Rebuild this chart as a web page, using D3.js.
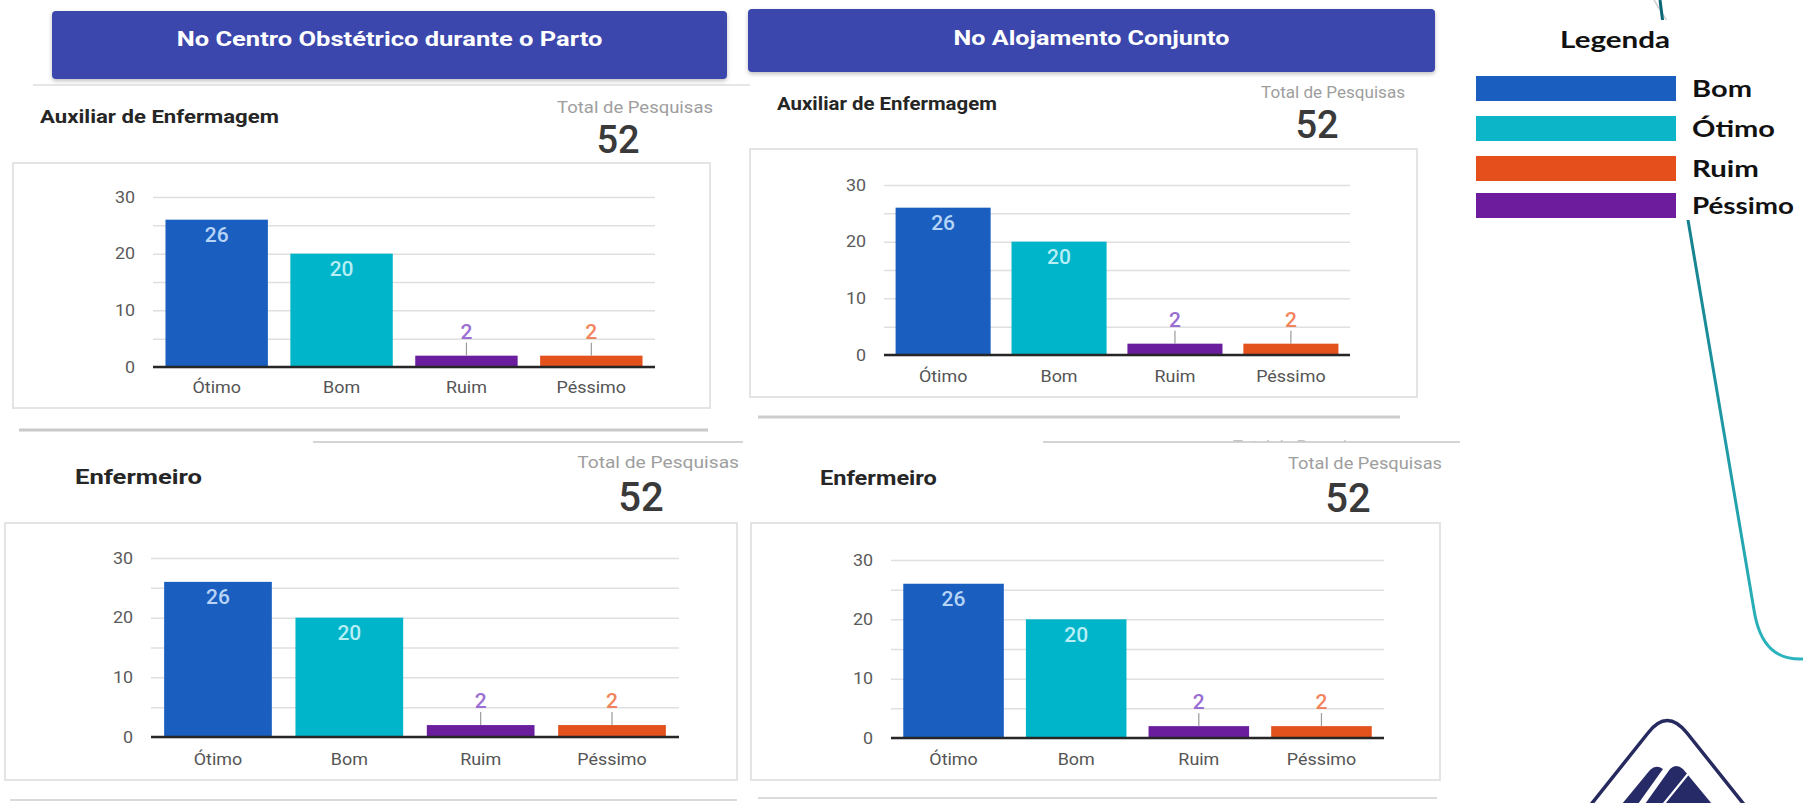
<!DOCTYPE html>
<html><head><meta charset="utf-8">
<script src="https://cdn.jsdelivr.net/npm/d3@7"></script>
<style>body{margin:0;background:#fff}svg{display:block}</style>
</head><body>
<svg id="c" width="1803" height="803"></svg>
<script>
// ---------- DATA ----------
const categories = ["Ótimo", "Bom", "Ruim", "Péssimo"];
const centroAuxiliar = [26, 20, 2, 2];
const centroEnfermeiro = [26, 20, 2, 2];
const alojamentoAuxiliar = [26, 20, 2, 2];
const alojamentoEnfermeiro = [26, 20, 2, 2];
const totalPesquisas = [52, 52, 52, 52]; // TL, TR, BL, BR
const sectionTitles = ["No Centro Obstétrico durante o Parto", "No Alojamento Conjunto"];
const roleTitles = ["Auxiliar de Enfermagem", "Enfermeiro"];
const totalLabel = "Total de Pesquisas";
const yTickValues = [0, 10, 20, 30];
const gridValues = [0, 5, 10, 15, 20, 25, 30];
const yDomain = [0, 30];
const legendTitle = "Legenda";
const legendLabels = ["Bom", "Ótimo", "Ruim", "Péssimo"];

// ---------- STYLES ----------
const barColors = ["#1a5fc0", "#00b4c9", "#6a1e9e", "#e3511d"];
const insideLabelColors = ["#b7d3f6", "#b8eef5", "#e3d3f0", "#fbd6c8"];
const outsideLabelColors = ["#5a8fd8", "#4cc9d8", "#9b6ed2", "#f1845c"];
const legendColors = ["#1a5fc0", "#0db5c9", "#e44f1b", "#6c1c9d"];
const headerColor = "#3a47ad";
const FONT = "Roboto, 'Noto Sans', sans-serif";

const svg = d3.select("#c");
const defs = svg.append("defs");
const sh = defs.append("filter").attr("id", "sh").attr("x", "-5%").attr("y", "-20%").attr("width", "110%").attr("height", "160%");
sh.append("feDropShadow").attr("dx", 0).attr("dy", 2).attr("stdDeviation", 2).attr("flood-color", "#000").attr("flood-opacity", 0.25);
const grad = defs.append("linearGradient").attr("id", "teal").attr("x1", 0).attr("y1", 0).attr("x2", 0).attr("y2", 1);
grad.append("stop").attr("offset", "0%").attr("stop-color", "#0b6676");
grad.append("stop").attr("offset", "100%").attr("stop-color", "#2ab4bd");
defs.append("clipPath").attr("id", "ghostclip").append("rect").attr("x", 1200).attr("y", 430).attr("width", 260).attr("height", 12);

// text helper: (x,y) = anchor point, y is the vertical center of the capitals
function label(parent, x, y, str, o) {
  const g = parent.append("g").attr("transform", `translate(${x},${y})`);
  const t = g.append("text").text(str)
    .attr("font-family", o.family || FONT)
    .attr("font-size", o.size)
    .attr("font-weight", o.weight || "normal")
    .attr("fill", o.color || "#333")
    .attr("text-anchor", o.anchor || "start")
    .attr("dy", "0.36em");
  if (o.width) {
    const L = t.node().getComputedTextLength();
    t.attr("transform", `scale(${o.width / L},1)`);
  } else if (o.sx) {
    t.attr("transform", `scale(${o.sx},1)`);
  }
  return t;
}

// ---------- decorative separators ----------
const deco = svg.append("g");
deco.append("line").attr("x1", 33).attr("x2", 750).attr("y1", 85).attr("y2", 85).attr("stroke", "#e6e6e6").attr("stroke-width", 2);
deco.append("line").attr("x1", 19).attr("x2", 708).attr("y1", 430).attr("y2", 430).attr("stroke", "#c9c9c9").attr("stroke-width", 3);
deco.append("line").attr("x1", 313).attr("x2", 743).attr("y1", 442).attr("y2", 442).attr("stroke", "#d4d4d4").attr("stroke-width", 2);
deco.append("line").attr("x1", 758).attr("x2", 1400).attr("y1", 417).attr("y2", 417).attr("stroke", "#cdcdcd").attr("stroke-width", 3);
deco.append("line").attr("x1", 1043).attr("x2", 1460).attr("y1", 442).attr("y2", 442).attr("stroke", "#d4d4d4").attr("stroke-width", 2);
deco.append("line").attr("x1", 10).attr("x2", 737).attr("y1", 800).attr("y2", 800).attr("stroke", "#dadada").attr("stroke-width", 2);
deco.append("line").attr("x1", 758).attr("x2", 1437).attr("y1", 798).attr("y2", 798).attr("stroke", "#dadada").attr("stroke-width", 2);
// ghost (cut-off) text
const ghost = deco.append("g").attr("clip-path", "url(#ghostclip)");
label(ghost, 1233, 446, totalLabel, {size: 16, color: "#c4c4c4", width: 140});

// ---------- section headers ----------
const headers = [
  {x: 52, y: 11, w: 675, h: 68, ty: 38, tw: 426},
  {x: 748, y: 9, w: 687, h: 63, ty: 37, tw: 276}
];
headers.forEach((h, i) => {
  svg.append("rect").attr("x", h.x).attr("y", h.y).attr("width", h.w).attr("height", h.h)
    .attr("rx", 4).attr("fill", headerColor).attr("filter", "url(#sh)");
  label(svg, h.x + h.w / 2, h.ty, sectionTitles[i], {size: 21, weight: "bold", color: "#fff", anchor: "middle", width: h.tw});
});

// ---------- chart panels ----------
const layouts = [
  {values: centroAuxiliar, role: 0, total: 0, box: [13, 163, 697, 245], px: [153, 655], py: [367, 197], xlab: 388,
   title: {x: 40, y: 117, size: 18, w: 239}, tot: {x: 713, y: 107, w: 156}, num: {x: 618, y: 139, size: 38}},
  {values: alojamentoAuxiliar, role: 0, total: 1, box: [750, 149, 667, 248], px: [884, 1350], py: [355, 185], xlab: 377,
   title: {x: 777, y: 104, size: 18, w: 220}, tot: {x: 1405, y: 92, w: 144}, num: {x: 1317, y: 124, size: 38}},
  {values: centroEnfermeiro, role: 1, total: 2, box: [5, 523, 732, 257], px: [151, 679], py: [737, 558], xlab: 760,
   title: {x: 75, y: 476, size: 21, w: 127}, tot: {x: 739, y: 462, w: 162}, num: {x: 641, y: 497, size: 40}},
  {values: alojamentoEnfermeiro, role: 1, total: 3, box: [751, 523, 689, 257], px: [891, 1384], py: [738, 560], xlab: 760,
   title: {x: 820, y: 477, size: 21, w: 117}, tot: {x: 1442, y: 463, w: 154}, num: {x: 1348, y: 498, size: 40}}
];

layouts.forEach(L => {
  const g = svg.append("g");
  // chart card
  g.append("rect").attr("x", L.box[0]).attr("y", L.box[1]).attr("width", L.box[2]).attr("height", L.box[3])
    .attr("fill", "#fff").attr("stroke", "#e4e4e4").attr("stroke-width", 2);
  // titles
  label(g, L.title.x, L.title.y, roleTitles[L.role], {size: L.title.size, weight: "bold", color: "#262626", width: L.title.w});
  label(g, L.tot.x, L.tot.y, totalLabel, {size: 16, color: "#9e9e9e", anchor: "end", width: L.tot.w});
  label(g, L.num.x, L.num.y, String(totalPesquisas[L.total]), {size: L.num.size, weight: 500, color: "#3a3a3a", anchor: "middle"});

  const x = d3.scaleBand().domain(categories).range(L.px).paddingInner(0.18).paddingOuter(0.1);
  const y = d3.scaleLinear().domain(yDomain).range(L.py);
  const w = L.px[1] - L.px[0];

  // gridlines
  const grid = g.append("g").attr("transform", `translate(${L.px[0]},0)`)
    .call(d3.axisLeft(y).tickValues(gridValues).tickSize(-w).tickFormat(""));
  grid.select(".domain").remove();
  grid.selectAll(".tick line").attr("stroke", "#e0e0e0").attr("stroke-width", 1.5);

  // y labels
  const ya = g.append("g").attr("transform", `translate(${L.px[0]},0)`)
    .call(d3.axisLeft(y).tickValues(yTickValues).tickSize(0).tickPadding(16));
  ya.select(".domain").remove();
  ya.selectAll("text").attr("font-family", FONT).attr("font-size", 16).attr("fill", "#5a5a5a")
    .attr("transform", "scale(1.12,1)");

  // bars
  g.selectAll(".bar").data(L.values).join("rect")
    .attr("x", (d, i) => x(categories[i]))
    .attr("width", x.bandwidth())
    .attr("y", d => y(d))
    .attr("height", d => y(0) - y(d))
    .attr("fill", (d, i) => barColors[i]);

  // value labels
  L.values.forEach((v, i) => {
    const cx = x(categories[i]) + x.bandwidth() / 2;
    const top = y(v);
    if (y(0) - top > 30) {
      label(g, cx, top + 15, String(v), {size: 20, weight: 500, color: insideLabelColors[i], anchor: "middle", sx: 1.05});
    } else {
      g.append("line").attr("x1", cx).attr("x2", cx).attr("y1", top - 13).attr("y2", top)
        .attr("stroke", "#9a9a9a").attr("stroke-width", 1.2);
      label(g, cx, top - 24, String(v), {size: 20, weight: 500, color: outsideLabelColors[i], anchor: "middle", sx: 1.05});
    }
  });

  // x axis
  const xa = g.append("g").attr("transform", `translate(0,${y(0)})`)
    .call(d3.axisBottom(x).tickSize(0).tickSizeOuter(0).tickPadding(L.xlab - y(0) - 6));
  xa.select(".domain").attr("stroke", "#262626").attr("stroke-width", 2.5)
    .attr("d", `M${L.px[0]},0H${L.px[1]}`);
  xa.selectAll("text").attr("font-family", FONT).attr("font-size", 16).attr("fill", "#555")
    .attr("transform", "scale(1.12,1)");
});

// ---------- right-side decoration ----------
svg.append("line").attr("x1", 1654).attr("y1", 0).attr("x2", 1667).attr("y2", 21).attr("stroke", "#cfcfcf").attr("stroke-width", 1.5);
svg.append("path").attr("d", "M1660,0 L1688,220 L1754,610 C1760,648 1778,660 1803,659")
  .attr("fill", "none").attr("stroke", "url(#teal)").attr("stroke-width", 3).attr("stroke-linejoin", "round");

// legend
const lg = svg.append("g");
lg.append("rect").attr("x", 1468).attr("y", 20).attr("width", 335).attr("height", 200).attr("fill", "#fff");
label(lg, 1615, 40, legendTitle, {size: 22, weight: "bold", family: "Lato, 'Open Sans', sans-serif", color: "#111", anchor: "middle", width: 110});
const legY = [76, 116, 156, 193];
const legW = [60, 83, 67, 102];
legendLabels.forEach((t, i) => {
  lg.append("rect").attr("x", 1476).attr("y", legY[i]).attr("width", 200).attr("height", 25).attr("fill", legendColors[i]);
  label(lg, 1692, legY[i] + 13, t, {size: 23, weight: "bold", family: "Lato, 'Open Sans', sans-serif", color: "#111", width: legW[i]});
});

// logo (partially visible)
const logo = svg.append("g");
logo.append("path").attr("d", "M1585,812 L1648,733 Q1667,708 1687,733 L1750,812")
  .attr("fill", "none").attr("stroke", "#262a5e").attr("stroke-width", 3.5).attr("stroke-linejoin", "round");
logo.append("path").attr("d", "M1650,770 Q1656,764 1663,769 L1638,804 L1622,804 Z").attr("fill", "#262a66");
logo.append("path").attr("d", "M1670,769 Q1676,763 1683,769 L1712,804 L1645,804 Z").attr("fill", "#262a66");
logo.append("line").attr("x1", 1688).attr("y1", 774).attr("x2", 1662).attr("y2", 806).attr("stroke", "#fff").attr("stroke-width", 2.2);
</script>
</body></html>
